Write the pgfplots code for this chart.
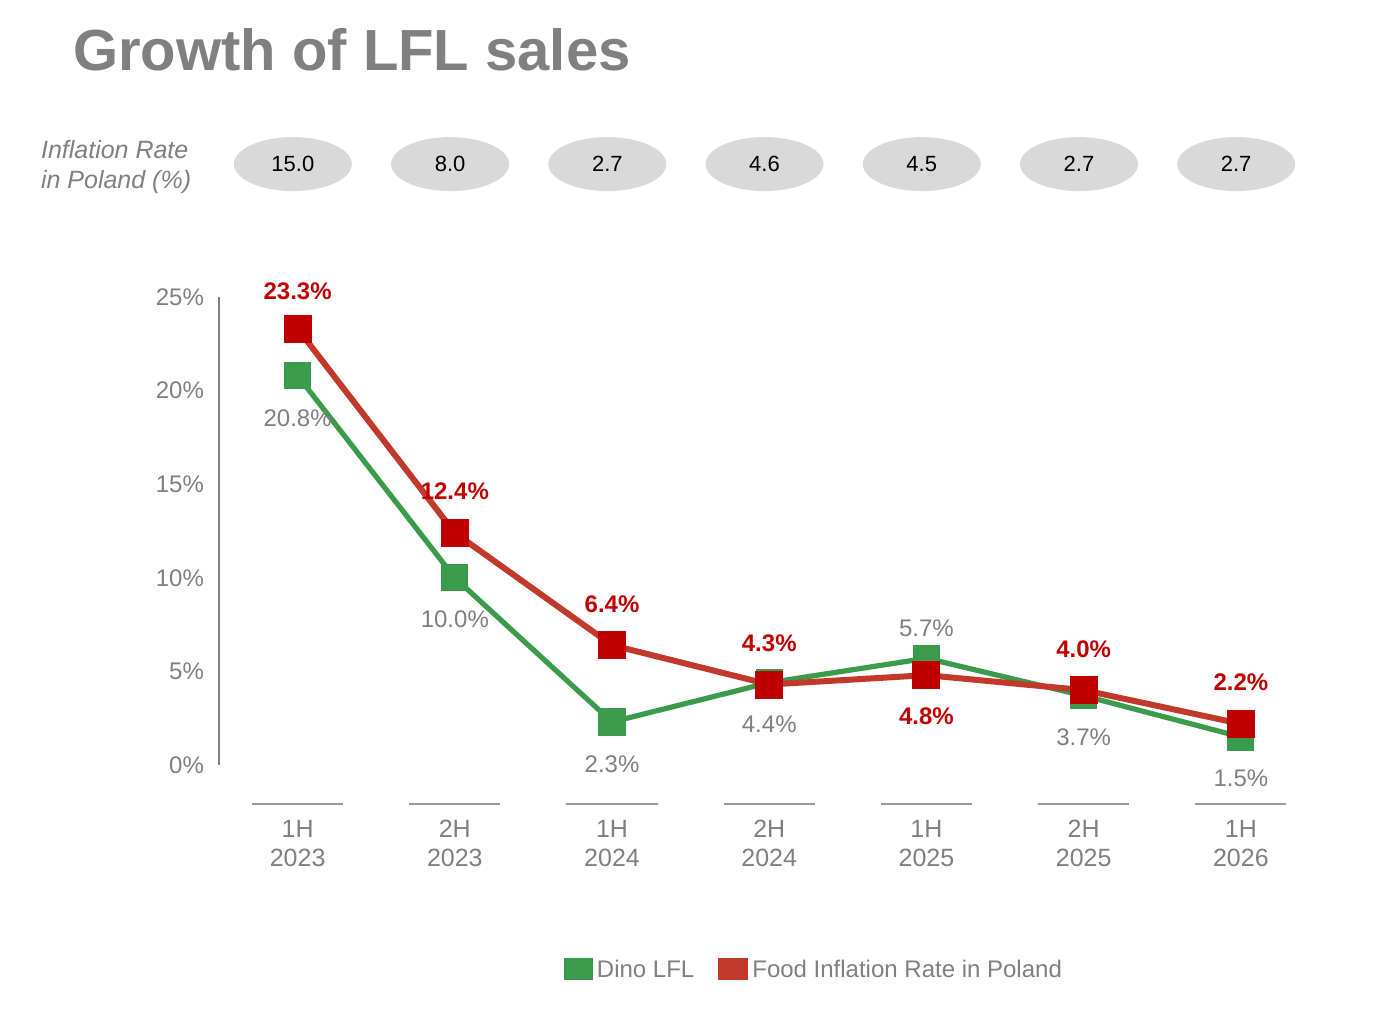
\documentclass[border=0pt]{standalone}
\usepackage{pgfplots}
\pgfplotsset{compat=1.18}
\usepackage{fontspec}
\setmainfont{Liberation Sans}
\usetikzlibrary{shapes.geometric}
\definecolor{dred}{HTML}{C0392B}
\definecolor{mred}{HTML}{C00000}
\definecolor{dgreen}{HTML}{3A9B4A}
\definecolor{lgreen}{HTML}{2E6B3A}
\definecolor{tgray}{HTML}{808080}
\definecolor{bgray}{HTML}{D9D9D9}
\tikzset{gl/.style={text=tgray,font=\fontsize{12}{14}\selectfont},
rl/.style={text=mred,font=\fontsize{12}{14}\selectfont\bfseries},
cl/.style={text=tgray,font=\fontsize{12.5}{14.5}\selectfont,align=center},
bl/.style={ellipse,fill=bgray,minimum width=59pt,minimum height=27pt,inner sep=0pt,font=\fontsize{11}{13}\selectfont},
sg/.style={tgray!80,line width=0.8pt}}
\begin{document}
\begin{tikzpicture}[x=1pt,y=1pt]
\path[use as bounding box] (0,0) rectangle (692,508.5);
\node[anchor=west,text=tgray,font=\fontsize{29}{32}\selectfont\bfseries] at (33,483.5) {Growth of LFL sales};
\node[anchor=west,text=tgray,font=\fontsize{12.5}{15}\selectfont\itshape,align=left] at (17,425) {Inflation Rate\\in Poland (\%)};
\begin{axis}[at={(109.5pt,126pt)},anchor=south west,scale only axis,width=550.25pt,height=234pt,
  xmin=-0.5,xmax=6.5,ymin=0,ymax=25,clip=false,
  axis x line=none,axis y line*=left,
  y axis line style={tgray,line width=0.8pt},
  ytick={0,5,10,15,20,25},yticklabel={\pgfmathprintnumber{\tick}\%},
  major tick length=0pt,
  yticklabel style={text=tgray,font=\fontsize{12}{14}\selectfont,xshift=-4pt},
  /pgf/number format/assume math mode=true,
  legend columns=2,
  legend style={at={(axis cs:3.29,-10.95)},anchor=center,draw=none,font=\fontsize{12}{14}\selectfont\color{tgray},
    /tikz/every even column/.append style={column sep=10pt}},
  legend image code/.code={\fill[#1] (0pt,-3.5pt) rectangle (12pt,4.5pt);},
]
\addplot[dgreen,line width=2.6pt,mark=square*,mark size=5.5pt,mark options={fill=dgreen,draw=dgreen}] coordinates {(0,20.8)(1,10.0)(2,2.3)(3,4.4)(4,5.7)(5,3.7)(6,1.5)};
\addplot[dred,line width=3pt,mark=square*,mark size=5.5pt,mark options={fill=mred,draw=mred}] coordinates {(0,23.3)(1,12.4)(2,6.4)(3,4.3)(4,4.8)(5,4.0)(6,2.2)};
\addlegendimage{fill=dred}
\addlegendentry{Dino LFL}
\addlegendimage{fill=lgreen}
\addlegendentry{Food Inflation Rate in Poland}
\node[gl] at (axis cs:0,18.5) {20.8\%};
\node[gl] at (axis cs:1,7.8) {10.0\%};
\node[gl] at (axis cs:2,0.05) {2.3\%};
\node[gl] at (axis cs:3,2.2) {4.4\%};
\node[gl] at (axis cs:4,7.3) {5.7\%};
\node[gl] at (axis cs:5,1.5) {3.7\%};
\node[gl] at (axis cs:6,-0.7) {1.5\%};
\node[rl] at (axis cs:0,25.3) {23.3\%};
\node[rl] at (axis cs:1,14.6) {12.4\%};
\node[rl] at (axis cs:2,8.6) {6.4\%};
\node[rl] at (axis cs:3,6.5) {4.3\%};
\node[rl] at (axis cs:4,2.6) {4.8\%};
\node[rl] at (axis cs:5,6.2) {4.0\%};
\node[rl] at (axis cs:6,4.4) {2.2\%};
\draw[sg] (axis cs:-0.29,-2.08) -- (axis cs:0.29,-2.08);
\draw[sg] (axis cs:0.71,-2.08) -- (axis cs:1.29,-2.08);
\draw[sg] (axis cs:1.71,-2.08) -- (axis cs:2.29,-2.08);
\draw[sg] (axis cs:2.71,-2.08) -- (axis cs:3.29,-2.08);
\draw[sg] (axis cs:3.71,-2.08) -- (axis cs:4.29,-2.08);
\draw[sg] (axis cs:4.71,-2.08) -- (axis cs:5.29,-2.08);
\draw[sg] (axis cs:5.71,-2.08) -- (axis cs:6.29,-2.08);
\node[cl] at (axis cs:0,-4.2) {1H\\2023};
\node[cl] at (axis cs:1,-4.2) {2H\\2023};
\node[cl] at (axis cs:2,-4.2) {1H\\2024};
\node[cl] at (axis cs:3,-4.2) {2H\\2024};
\node[cl] at (axis cs:4,-4.2) {1H\\2025};
\node[cl] at (axis cs:5,-4.2) {2H\\2025};
\node[cl] at (axis cs:6,-4.2) {1H\\2026};
\node[bl] at (axis cs:-0.03,32.1) {15.0};
\node[bl] at (axis cs:0.97,32.1) {8.0};
\node[bl] at (axis cs:1.97,32.1) {2.7};
\node[bl] at (axis cs:2.97,32.1) {4.6};
\node[bl] at (axis cs:3.97,32.1) {4.5};
\node[bl] at (axis cs:4.97,32.1) {2.7};
\node[bl] at (axis cs:5.97,32.1) {2.7};
\end{axis}
\end{tikzpicture}
\end{document}
